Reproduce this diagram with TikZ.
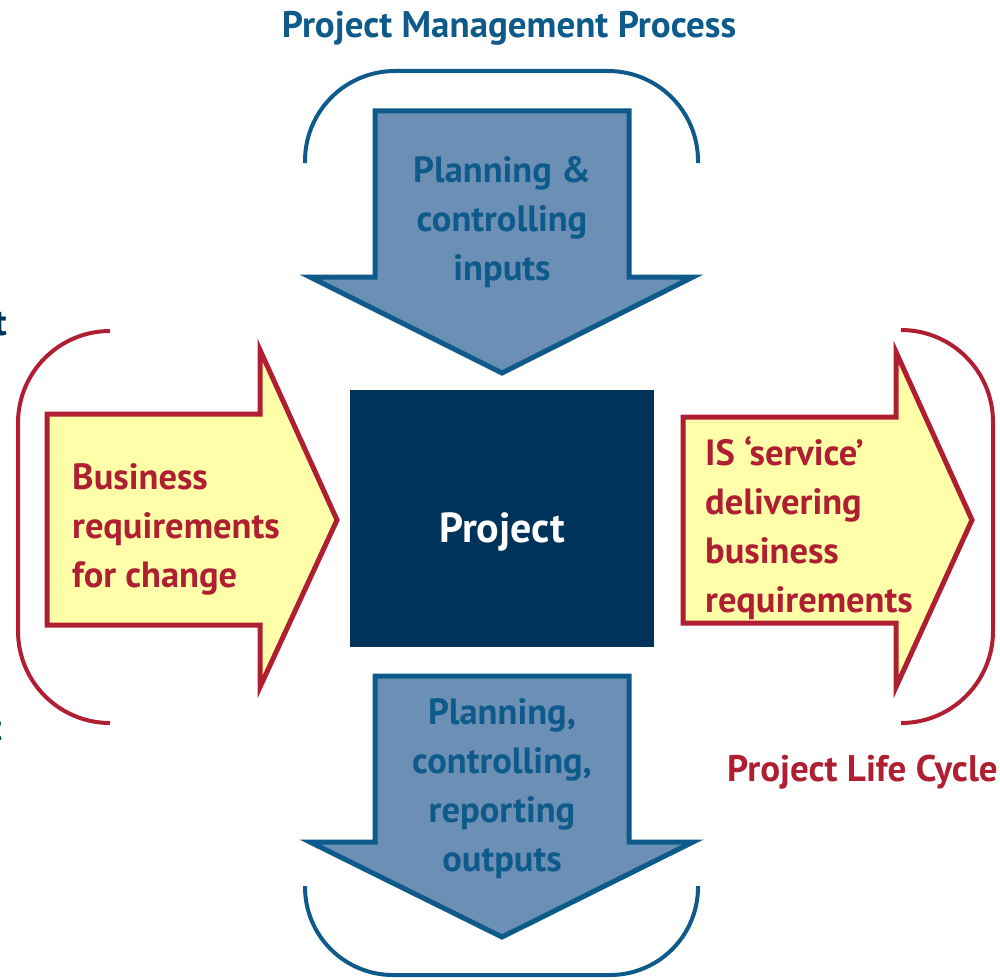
\documentclass[tikz,border=0pt]{standalone}
\usepackage{fontspec}
\setmainfont{PT Sans}
\definecolor{pblue}{HTML}{0E5A8A}
\definecolor{pfill}{HTML}{6B8FB5}
\definecolor{pnavy}{HTML}{00335A}
\definecolor{pred}{HTML}{B01E32}
\definecolor{pyellow}{HTML}{FFFFAA}
\begin{document}
\begin{tikzpicture}[x=1pt,y=-1pt,
  bluearrow/.style={draw=pblue,fill=pfill,line width=5pt,line join=miter},
  redarrow/.style={draw=pred,fill=pyellow,line width=5pt,line join=miter},
  bluebracket/.style={draw=pblue,line width=4pt},
  redbracket/.style={draw=pred,line width=4pt},
  bluetext/.style={text=pblue,font=\bfseries\fontsize{36.5}{49}\selectfont,align=center,inner sep=0pt},
  redtext/.style={text=pred,font=\bfseries\fontsize{36.5}{49}\selectfont,align=left,inner sep=0pt},
  title/.style={font=\bfseries\fontsize{37}{42}\selectfont,inner sep=0pt}]
\useasboundingbox (0,0) rectangle (1000,979);
% brackets
\draw[bluebracket,rounded corners=90pt] (305,163) -- (305,71) -- (698,71) -- (698,163);
\draw[bluebracket,rounded corners=88pt] (305,886) -- (305,975) -- (698,975) -- (698,886);
\draw[redbracket,rounded corners=92pt] (110,331) -- (18,331) -- (18,723) -- (110,723);
\draw[redbracket,rounded corners=92pt] (901,330) -- (993,330) -- (993,723) -- (901,723);
% arrows
\draw[bluearrow] (375,111) -- (629,111) -- (629,277) -- (693,277) -- (502,373) -- (310,277) -- (375,277) -- cycle;
\draw[bluearrow] (375,676) -- (629,676) -- (629,842) -- (693,842) -- (502,937) -- (310,842) -- (375,842) -- cycle;
\draw[redarrow] (47,414) -- (260,414) -- (260,350) -- (337,520) -- (260,687) -- (260,625) -- (47,625) -- cycle;
\draw[redarrow] (683,417) -- (896,417) -- (896,352) -- (972,520) -- (896,687) -- (896,623) -- (683,623) -- cycle;
% project box
\node[fill=pnavy,minimum width=304pt,minimum height=257pt,inner sep=0pt] (proj) at (502,518.5) {};
\node[text=white,font=\bfseries\fontsize{42}{48}\selectfont,inner sep=0pt,anchor=base] (projt) at (502,542) {Project};
% texts
\node[title,text=pblue,anchor=base] (pmp) at (509,38) {Project Management Process};
\node[title,text=pred,anchor=base west] (plc) at (727,781) {Project Life Cycle};
\node[bluetext,anchor=base] (intxt) at (502,280) {Planning \&\\controlling\\inputs};
\node[bluetext,anchor=base] (outtxt) at (502,871) {Planning,\\controlling,\\reporting\\outputs};
\node[redtext,anchor=base west] (bizt) at (72,587) {Business\\requirements\\for change};
\node[redtext,anchor=base west] (ist) at (705,612) {IS ‘service’\\delivering\\business\\requirements};
\node[title,text=pnavy,anchor=base east] (tfrag1) at (7,335) {t};
\node[title,text=pnavy,anchor=base east] (tfrag2) at (2,740) {t};
\end{tikzpicture}
\end{document}
